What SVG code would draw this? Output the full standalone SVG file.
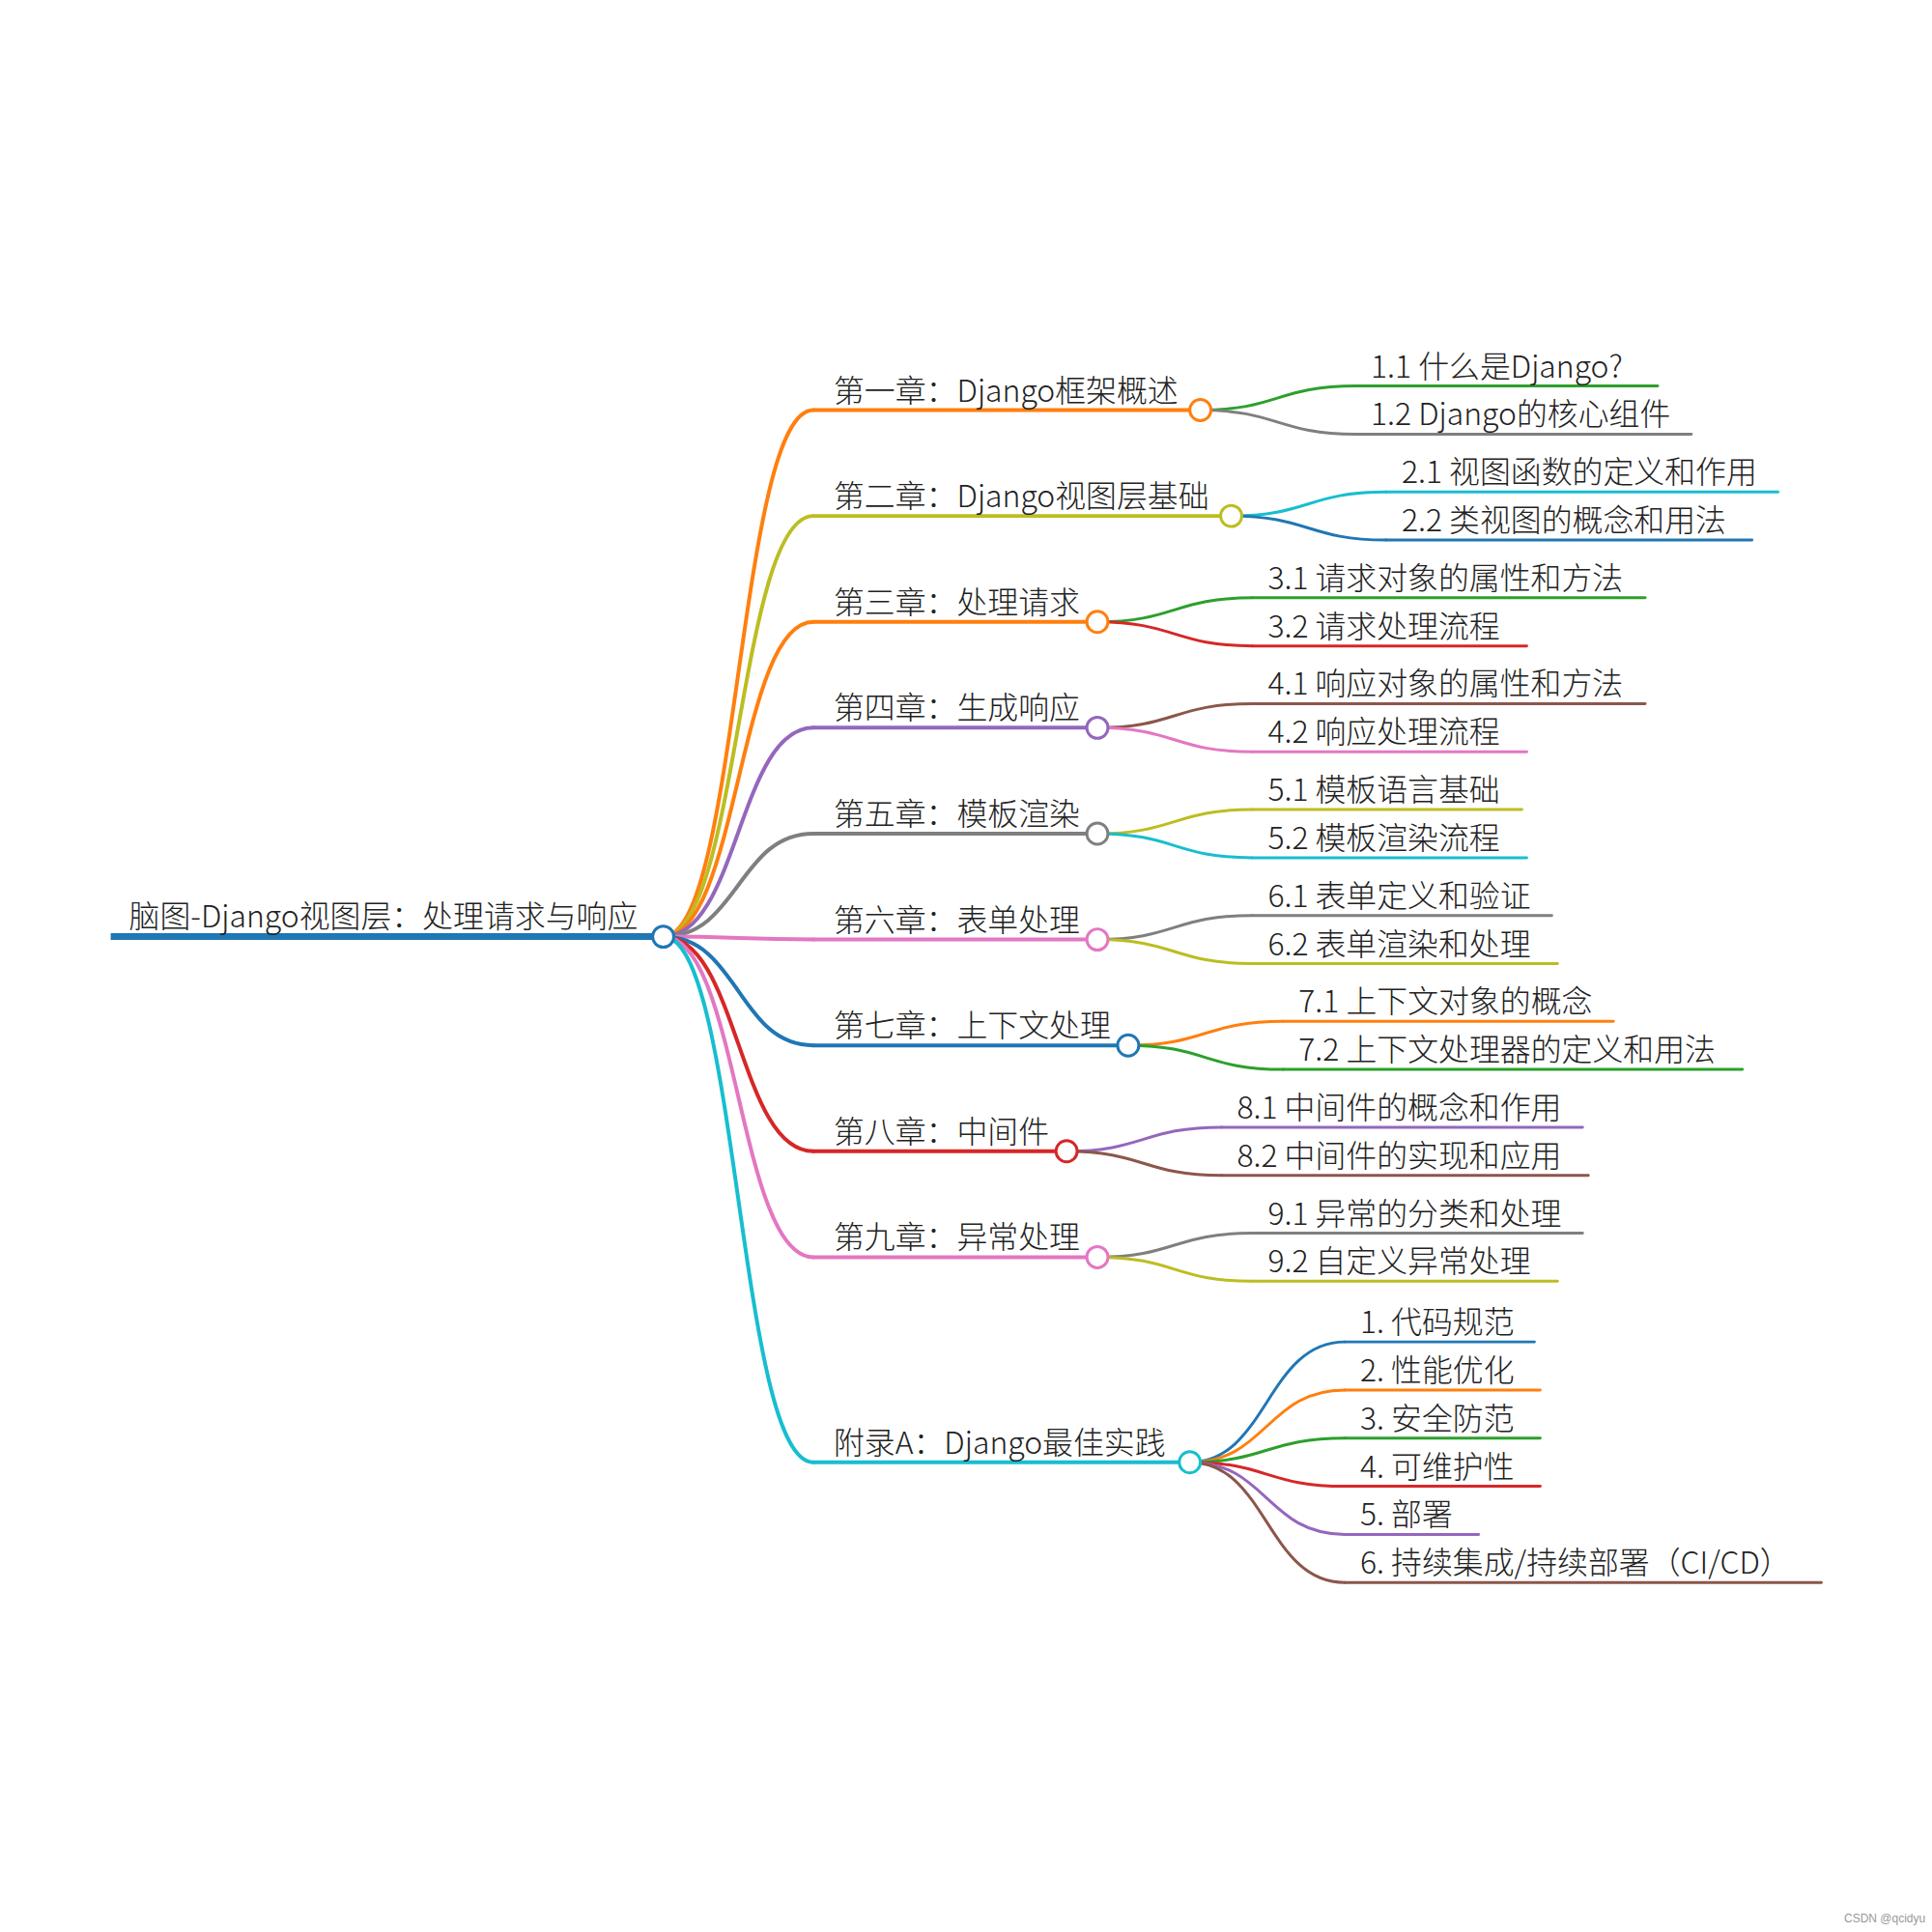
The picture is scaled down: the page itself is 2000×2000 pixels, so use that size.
<svg xmlns="http://www.w3.org/2000/svg" width="2000" height="2000" viewBox="0 0 2000 2000">
<style>
text{font-family:"Noto Sans CJK SC","Microsoft YaHei","Noto Sans",sans-serif;font-weight:300;font-size:32px;fill:#222;}
.c{fill:none;stroke-width:4;stroke-linecap:round;}
.s{fill:none;stroke-width:3;stroke-linecap:round;}
.n{fill:#fff;stroke-width:3;}
.blue{stroke:#1f77b4}.orange{stroke:#ff7f0e}.green{stroke:#2ca02c}.red{stroke:#d62728}.purple{stroke:#9467bd}.brown{stroke:#8c564b}.pink{stroke:#e377c2}.gray{stroke:#7f7f7f}.olive{stroke:#bcbd22}.cyan{stroke:#17becf}
.wm{font-family:"Liberation Sans",sans-serif;font-size:12px;fill:#999;font-weight:400}
</style>
<rect width="2000" height="2000" fill="#fff"/>
<g transform="scale(0.9965)">
<g id="connectors">
<path class="c orange" d="M689,973 C767,973 767,426 845,426"/>
<path class="c olive" d="M689,973 C767,973 767,536 845,536"/>
<path class="c orange" d="M689,973 C767,973 767,646 845,646"/>
<path class="c purple" d="M689,973 C767,973 767,756 845,756"/>
<path class="c gray" d="M689,973 C767,973 767,866 845,866"/>
<path class="c pink" d="M689,973 C767,973 767,976 845,976"/>
<path class="c blue" d="M689,973 C767,973 767,1086 845,1086"/>
<path class="c red" d="M689,973 C767,973 767,1196 845,1196"/>
<path class="c pink" d="M689,973 C767,973 767,1306 845,1306"/>
<path class="c cyan" d="M689,973 C767,973 767,1519 845,1519"/>
<path class="s green" d="M1247,426 C1327,426 1327,401 1408,401"/>
<path class="s gray" d="M1247,426 C1327,426 1327,451 1408,451"/>
<path class="s cyan" d="M1279,536 C1359,536 1359,511 1440,511"/>
<path class="s blue" d="M1279,536 C1359,536 1359,561 1440,561"/>
<path class="s green" d="M1140,646 C1220,646 1220,621 1301,621"/>
<path class="s red" d="M1140,646 C1220,646 1220,671 1301,671"/>
<path class="s brown" d="M1140,756 C1220,756 1220,731 1301,731"/>
<path class="s pink" d="M1140,756 C1220,756 1220,781 1301,781"/>
<path class="s olive" d="M1140,866 C1220,866 1220,841 1301,841"/>
<path class="s cyan" d="M1140,866 C1220,866 1220,891 1301,891"/>
<path class="s gray" d="M1140,976 C1220,976 1220,951 1301,951"/>
<path class="s olive" d="M1140,976 C1220,976 1220,1001 1301,1001"/>
<path class="s orange" d="M1172,1086 C1252,1086 1252,1061 1333,1061"/>
<path class="s green" d="M1172,1086 C1252,1086 1252,1111 1333,1111"/>
<path class="s purple" d="M1108,1196 C1188,1196 1188,1171 1269,1171"/>
<path class="s brown" d="M1108,1196 C1188,1196 1188,1221 1269,1221"/>
<path class="s gray" d="M1140,1306 C1220,1306 1220,1281 1301,1281"/>
<path class="s olive" d="M1140,1306 C1220,1306 1220,1331 1301,1331"/>
<path class="s blue" d="M1236,1519 C1316,1519 1316,1394 1397,1394"/>
<path class="s orange" d="M1236,1519 C1316,1519 1316,1444 1397,1444"/>
<path class="s green" d="M1236,1519 C1316,1519 1316,1494 1397,1494"/>
<path class="s red" d="M1236,1519 C1316,1519 1316,1544 1397,1544"/>
<path class="s purple" d="M1236,1519 C1316,1519 1316,1594 1397,1594"/>
<path class="s brown" d="M1236,1519 C1316,1519 1316,1644 1397,1644"/>
</g>
<g id="root">
<line x1="115" y1="973" x2="689" y2="973" stroke="#1f77b4" stroke-width="7"/>
<text x="134" y="963">脑图-Django视图层：处理请求与响应</text>
<circle class="n blue" cx="689" cy="973" r="11"/>
</g>
<g id="ch1"><line class="c orange" x1="845" y1="426" x2="1247" y2="426"/><text x="866" y="417">第一章：Django框架概述</text><circle class="n orange" cx="1247" cy="426" r="11"/></g>
<g id="ch2"><line class="c olive" x1="845" y1="536" x2="1279" y2="536"/><text x="866" y="527">第二章：Django视图层基础</text><circle class="n olive" cx="1279" cy="536" r="11"/></g>
<g id="ch3"><line class="c orange" x1="845" y1="646" x2="1140" y2="646"/><text x="866" y="637">第三章：处理请求</text><circle class="n orange" cx="1140" cy="646" r="11"/></g>
<g id="ch4"><line class="c purple" x1="845" y1="756" x2="1140" y2="756"/><text x="866" y="747">第四章：生成响应</text><circle class="n purple" cx="1140" cy="756" r="11"/></g>
<g id="ch5"><line class="c gray" x1="845" y1="866" x2="1140" y2="866"/><text x="866" y="857">第五章：模板渲染</text><circle class="n gray" cx="1140" cy="866" r="11"/></g>
<g id="ch6"><line class="c pink" x1="845" y1="976" x2="1140" y2="976"/><text x="866" y="967">第六章：表单处理</text><circle class="n pink" cx="1140" cy="976" r="11"/></g>
<g id="ch7"><line class="c blue" x1="845" y1="1086" x2="1172" y2="1086"/><text x="866" y="1077">第七章：上下文处理</text><circle class="n blue" cx="1172" cy="1086" r="11"/></g>
<g id="ch8"><line class="c red" x1="845" y1="1196" x2="1108" y2="1196"/><text x="866" y="1187">第八章：中间件</text><circle class="n red" cx="1108" cy="1196" r="11"/></g>
<g id="ch9"><line class="c pink" x1="845" y1="1306" x2="1140" y2="1306"/><text x="866" y="1297">第九章：异常处理</text><circle class="n pink" cx="1140" cy="1306" r="11"/></g>
<g id="appA"><line class="c cyan" x1="845" y1="1519" x2="1236" y2="1519"/><text x="866" y="1510">附录A：Django最佳实践</text><circle class="n cyan" cx="1236" cy="1519" r="11"/></g>
<g id="s1-1"><line class="s green" x1="1408" y1="401" x2="1722" y2="401"/><text x="1424" y="392">1.1 什么是Django?</text></g>
<g id="s1-2"><line class="s gray" x1="1408" y1="451" x2="1757" y2="451"/><text x="1424" y="442">1.2 Django的核心组件</text></g>
<g id="s2-1"><line class="s cyan" x1="1440" y1="511" x2="1847" y2="511"/><text x="1456" y="502">2.1 视图函数的定义和作用</text></g>
<g id="s2-2"><line class="s blue" x1="1440" y1="561" x2="1820" y2="561"/><text x="1456" y="552">2.2 类视图的概念和用法</text></g>
<g id="s3-1"><line class="s green" x1="1301" y1="621" x2="1709" y2="621"/><text x="1317" y="612">3.1 请求对象的属性和方法</text></g>
<g id="s3-2"><line class="s red" x1="1301" y1="671" x2="1586" y2="671"/><text x="1317" y="662">3.2 请求处理流程</text></g>
<g id="s4-1"><line class="s brown" x1="1301" y1="731" x2="1709" y2="731"/><text x="1317" y="722">4.1 响应对象的属性和方法</text></g>
<g id="s4-2"><line class="s pink" x1="1301" y1="781" x2="1586" y2="781"/><text x="1317" y="772">4.2 响应处理流程</text></g>
<g id="s5-1"><line class="s olive" x1="1301" y1="841" x2="1581" y2="841"/><text x="1317" y="832">5.1 模板语言基础</text></g>
<g id="s5-2"><line class="s cyan" x1="1301" y1="891" x2="1586" y2="891"/><text x="1317" y="882">5.2 模板渲染流程</text></g>
<g id="s6-1"><line class="s gray" x1="1301" y1="951" x2="1612" y2="951"/><text x="1317" y="942">6.1 表单定义和验证</text></g>
<g id="s6-2"><line class="s olive" x1="1301" y1="1001" x2="1618" y2="1001"/><text x="1317" y="992">6.2 表单渲染和处理</text></g>
<g id="s7-1"><line class="s orange" x1="1333" y1="1061" x2="1676" y2="1061"/><text x="1349" y="1052">7.1 上下文对象的概念</text></g>
<g id="s7-2"><line class="s green" x1="1333" y1="1111" x2="1810" y2="1111"/><text x="1349" y="1102">7.2 上下文处理器的定义和用法</text></g>
<g id="s8-1"><line class="s purple" x1="1269" y1="1171" x2="1644" y2="1171"/><text x="1285" y="1162">8.1 中间件的概念和作用</text></g>
<g id="s8-2"><line class="s brown" x1="1269" y1="1221" x2="1650" y2="1221"/><text x="1285" y="1212">8.2 中间件的实现和应用</text></g>
<g id="s9-1"><line class="s gray" x1="1301" y1="1281" x2="1644" y2="1281"/><text x="1317" y="1272">9.1 异常的分类和处理</text></g>
<g id="s9-2"><line class="s olive" x1="1301" y1="1331" x2="1618" y2="1331"/><text x="1317" y="1322">9.2 自定义异常处理</text></g>
<g id="a1"><line class="s blue" x1="1397" y1="1394" x2="1594" y2="1394"/><text x="1413" y="1385">1. 代码规范</text></g>
<g id="a2"><line class="s orange" x1="1397" y1="1444" x2="1600" y2="1444"/><text x="1413" y="1435">2. 性能优化</text></g>
<g id="a3"><line class="s green" x1="1397" y1="1494" x2="1600" y2="1494"/><text x="1413" y="1485">3. 安全防范</text></g>
<g id="a4"><line class="s red" x1="1397" y1="1544" x2="1600" y2="1544"/><text x="1413" y="1535">4. 可维护性</text></g>
<g id="a5"><line class="s purple" x1="1397" y1="1594" x2="1536" y2="1594"/><text x="1413" y="1585">5. 部署</text></g>
<g id="a6"><line class="s brown" x1="1397" y1="1644" x2="1892" y2="1644"/><text x="1413" y="1635">6. 持续集成/持续部署（CI/CD）</text></g>
</g>
<text class="wm" x="1909" y="1990">CSDN @qcidyu</text>
</svg>
